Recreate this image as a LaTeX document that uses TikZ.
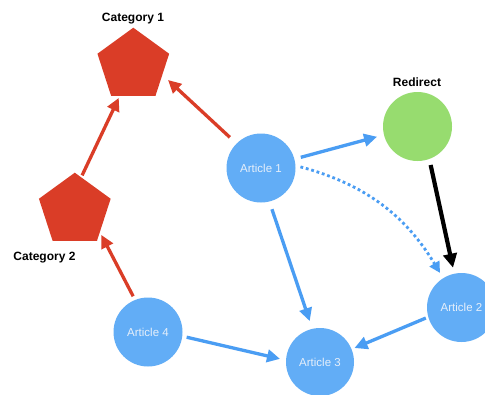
\documentclass[tikz,border=0pt]{standalone}
\usepackage{fontspec}
\setmainfont{Liberation Sans}
\usetikzlibrary{shapes.geometric,arrows.meta}
\definecolor{catred}{HTML}{DA3D27}
\definecolor{artblue}{HTML}{62ADF6}
\definecolor{arrblue}{HTML}{4A9DF3}
\definecolor{redgreen}{HTML}{97DC6F}
\definecolor{arttext}{HTML}{E6EFFA}
\tikzset{
  article/.style={circle,fill=artblue,minimum size=69pt,inner sep=0pt,text=arttext,font=\fontsize{11.5}{13}\selectfont},
  catnode/.style={regular polygon,regular polygon sides=5,fill=catred,minimum size=75.4pt,inner sep=0pt},
  rednode/.style={circle,fill=redgreen,minimum size=69pt,inner sep=0pt},
  lbl/.style={font=\fontsize{12}{14}\selectfont\bfseries,inner sep=0pt},
  redarr/.style={draw=catred,line width=3.3pt,-{Triangle[length=13pt,width=12.5pt]}},
  bluearr/.style={draw=arrblue,line width=3.3pt,-{Triangle[length=13pt,width=12.5pt]}},
  blackarr/.style={draw=black,line width=4.2pt,-{Triangle[length=14pt,width=13.5pt]}},
  dotarr/.style={draw=arrblue,line width=2.8pt,dash pattern=on 2.8pt off 2.8pt,-{Triangle[length=11pt,width=11pt]}}
}
\begin{document}
\begin{tikzpicture}[x=1pt,y=-1pt]
\clip (0,0) rectangle (485,394);
\fill[white] (0,0) rectangle (485,394);
\node[catnode] (c1) at (133.3,65.4) {};
\node[catnode] (c2) at (74.8,210.4) {};
\node[article] (a1) at (261,168) {Article 1};
\node[rednode] (rd) at (417.5,126.5) {};
\node[article] (a2) at (461.5,307.5) {Article 2};
\node[article,minimum size=68pt] (a3) at (320,362) {Article 3};
\node[article] (a4) at (148,332) {Article 4};
\node[lbl] (l1) at (133,19) {Category 1};
\node[lbl] (l2) at (44.5,258) {Category 2};
\node[lbl] (l3) at (417,82) {Redirect};
\draw[redarr,shorten <=9pt,shorten >=7.5pt] (a1.135) -- (c1.-18);
\draw[redarr,shorten <=2pt,shorten >=2pt] (c2.79) -- (c1.246.6);
\draw[redarr,shorten <=4pt,shorten >=3pt] (a4.112.6) -- (c2.-41);
\draw[bluearr,shorten <=6.5pt,shorten >=7pt] (a1.15.4) -- (rd.194.5);
\draw[dotarr,shorten <=5pt,shorten >=6pt] (a1.4.3) to[out=-15,in=121] (a2.122);
\draw[blackarr,shorten <=6pt,shorten >=6pt] (rd.-70.7) -- (a2.102);
\draw[bluearr,shorten <=8pt,shorten >=8pt] (a1.-76.6) -- (a3.103.7);
\draw[bluearr,shorten <=2.5pt,shorten >=3pt] (a2.196.5) -- (a3.22.4);
\draw[bluearr,shorten <=4.3pt,shorten >=6pt] (a4.-7.3) -- (a3.177);
\end{tikzpicture}
\end{document}
